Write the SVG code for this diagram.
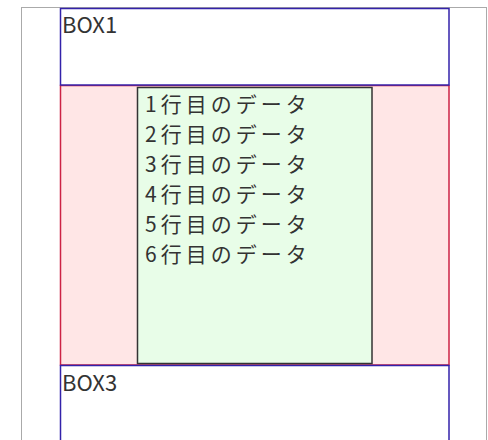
<svg xmlns="http://www.w3.org/2000/svg" width="488" height="440" viewBox="0 0 488 440">
  <style>
    .lbl { font-family: "Noto Sans CJK JP", "Liberation Sans", sans-serif; fill: #333333; }
    .box { stroke-width: 1.5; }
  </style>
  <rect x="0" y="0" width="488" height="440" fill="#ffffff"/>
  <g id="frame">
    <rect x="21.5" y="7.5" width="465" height="440" fill="#ffffff" stroke="#aaaaaa" stroke-width="1"/>
  </g>
  <g id="box2">
    <rect x="60.5" y="85.5" width="388.5" height="279.5" fill="#ffe6e6" stroke="#cc2244" class="box"/>
  </g>
  <g id="box1">
    <rect x="60.5" y="8.5" width="388.5" height="76.5" fill="#ffffff" stroke="#3322aa" class="box"/>
    <text x="62" y="33" class="lbl" font-size="22">BOX1</text>
  </g>
  <g id="box3">
    <rect x="60.5" y="365.5" width="388.5" height="90" fill="#ffffff" stroke="#3322aa" class="box"/>
    <text x="62" y="391" class="lbl" font-size="22">BOX3</text>
  </g>
  <g id="data">
    <rect x="137.5" y="87.5" width="234.5" height="276" fill="#e8fde8" stroke="#333333" stroke-width="1.5"/>
    <g class="lbl" font-size="21" letter-spacing="4">
      <text x="145" y="112">1行目のデータ</text>
      <text x="145" y="142">2行目のデータ</text>
      <text x="145" y="172">3行目のデータ</text>
      <text x="145" y="202">4行目のデータ</text>
      <text x="145" y="232">5行目のデータ</text>
      <text x="145" y="262">6行目のデータ</text>
    </g>
  </g>
  <g id="connectors"></g>
</svg>
